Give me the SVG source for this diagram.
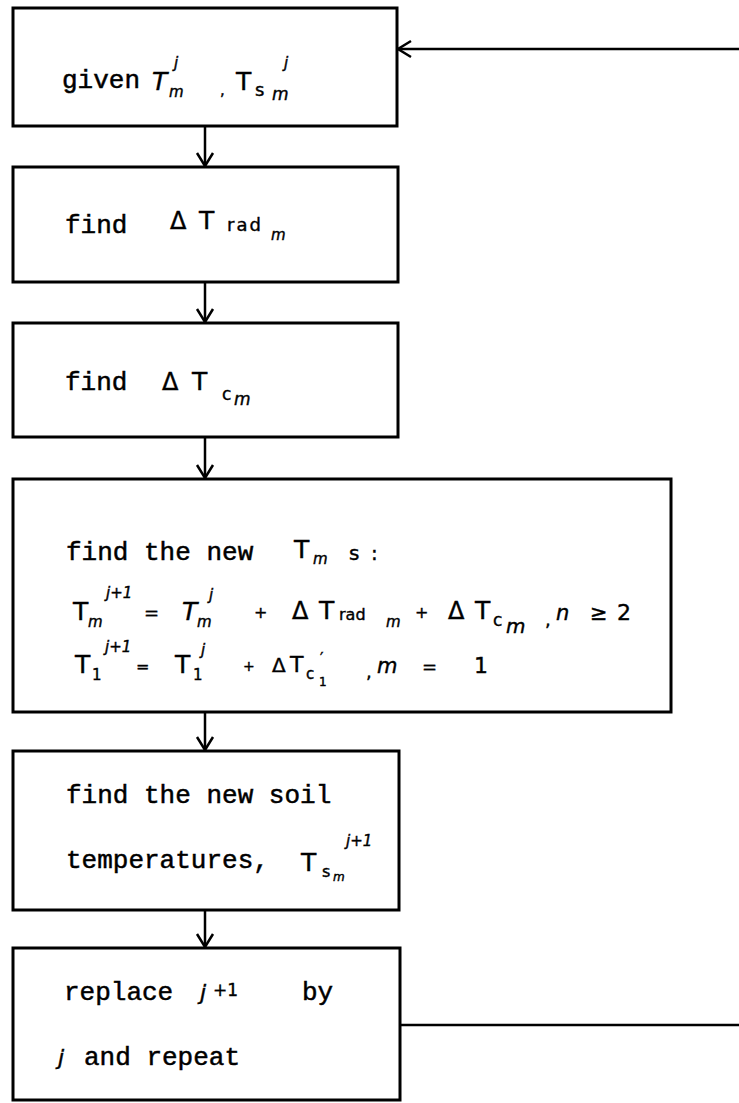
<svg xmlns="http://www.w3.org/2000/svg" width="739" height="1103" viewBox="0 0 739 1103">
<style>
.box{fill:#fff;stroke:#000;stroke-width:3}
.ln{fill:none;stroke:#000;stroke-width:2.5}
.tw{font-family:"Liberation Mono","DejaVu Sans Mono",monospace;font-size:26px;fill:#000;stroke:#000;stroke-width:0.5}
.hw{font-family:"DejaVu Sans","Liberation Sans",sans-serif;fill:#000;stroke:#000;stroke-width:0.4}
.T{font-size:25px}
.D{font-size:24px}
.s{font-size:15px}
.ss{font-size:12px}
.sup{font-size:15px}
</style>
<defs>
<marker id="ah" viewBox="-15 -10 17 20" markerWidth="17" markerHeight="20" refX="0" refY="0" orient="auto" markerUnits="userSpaceOnUse">
<path d="M-13,-8 L0,0 L-13,8" fill="none" stroke="#000" stroke-width="2.5"/>
</marker>
</defs>
<rect width="739" height="1103" fill="#fff"/>
<g id="connectors">
<path class="ln" d="M739,49 L398,49" marker-end="url(#ah)"/>
<path class="ln" d="M205,126 L205,166" marker-end="url(#ah)"/>
<path class="ln" d="M205,282 L205,322" marker-end="url(#ah)"/>
<path class="ln" d="M205,437 L205,478" marker-end="url(#ah)"/>
<path class="ln" d="M205,712 L205,750" marker-end="url(#ah)"/>
<path class="ln" d="M205,910 L205,947" marker-end="url(#ah)"/>
<path class="ln" d="M400,1025 L739,1025"/>
</g>
<g id="n1">
<rect class="box" x="13" y="8" width="384" height="118"/>
<text class="tw" x="62" y="88">given</text>
<text class="hw T" x="152" y="90" font-style="italic">T</text>
<text class="hw s" x="169" y="97" font-style="italic">m</text>
<text class="hw sup" x="174" y="68" font-style="italic">j</text>
<text class="hw s" x="220" y="95">,</text>
<text class="hw T" x="236" y="90">T</text>
<text class="hw" x="255" y="96" font-size="18">s</text>
<text class="hw" x="272" y="100" font-size="17" font-style="italic">m</text>
<text class="hw sup" x="284" y="68" font-style="italic">j</text>
</g>
<g id="n2">
<rect class="box" x="13" y="167" width="385" height="115"/>
<text class="tw" x="65" y="233">find</text>
<text class="hw D" x="170" y="229">Δ</text>
<text class="hw T" x="199" y="229">T</text>
<text class="hw" x="227" y="231" font-size="18" letter-spacing="2">rad</text>
<text class="hw s" x="271" y="240" font-style="italic">m</text>
</g>
<g id="n3">
<rect class="box" x="13" y="323" width="385" height="114"/>
<text class="tw" x="65" y="390">find</text>
<text class="hw D" x="162" y="390">Δ</text>
<text class="hw T" x="192" y="390">T</text>
<text class="hw" x="222" y="400" font-size="17">c</text>
<text class="hw" x="234" y="405" font-size="17" font-style="italic">m</text>
</g>
<g id="n4">
<rect class="box" x="13" y="479" width="658" height="233"/>
<text class="tw" x="66" y="560">find the new</text>
<text class="hw T" x="294" y="558">T</text>
<text class="hw s" x="313" y="564" font-style="italic">m</text>
<text class="hw" x="349" y="560" font-size="20">s</text>
<text class="hw" x="371" y="560" font-size="20">:</text>
<text class="hw T" x="73" y="620">T</text>
<text class="hw s" x="88" y="627" font-style="italic">m</text>
<text class="hw sup" x="106" y="598" font-style="italic">j+1</text>
<text class="hw" x="144" y="619" font-size="18">=</text>
<text class="hw T" x="182" y="620" font-style="italic">T</text>
<text class="hw s" x="197" y="627" font-style="italic">m</text>
<text class="hw sup" x="209" y="600" font-style="italic">j</text>
<text class="hw" x="254" y="618" font-size="16">+</text>
<text class="hw D" x="292" y="619">Δ</text>
<text class="hw T" x="319" y="619">T</text>
<text class="hw" x="339" y="620" font-size="16">rad</text>
<text class="hw s" x="386" y="627" font-style="italic">m</text>
<text class="hw" x="415" y="618" font-size="16">+</text>
<text class="hw D" x="448" y="619">Δ</text>
<text class="hw T" x="475" y="619">T</text>
<text class="hw" x="493" y="626" font-size="17">c</text>
<text class="hw" x="506" y="633" font-size="20" font-style="italic">m</text>
<text class="hw" x="545" y="626" font-size="18">,</text>
<text class="hw" x="556" y="620" font-size="21" font-style="italic">n</text>
<text class="hw" x="590" y="620" font-size="21">≥</text>
<text class="hw" x="617" y="620" font-size="22">2</text>
<text class="hw T" x="75" y="673">T</text>
<text class="hw s" x="92" y="680">1</text>
<text class="hw sup" x="105" y="652" font-style="italic">j+1</text>
<text class="hw" x="136" y="672" font-size="16">=</text>
<text class="hw T" x="175" y="673">T</text>
<text class="hw s" x="193" y="680">1</text>
<text class="hw sup" x="201" y="655" font-style="italic">j</text>
<text class="hw" x="243" y="671" font-size="14">+</text>
<text class="hw" x="272" y="672" font-size="20">Δ</text>
<text class="hw" x="290" y="672" font-size="22">T</text>
<text class="hw" x="306" y="679" font-size="15">c</text>
<text class="hw" x="320" y="664" font-size="15">′</text>
<text class="hw ss" x="319" y="686">1</text>
<text class="hw" x="366" y="678" font-size="18">,</text>
<text class="hw" x="377" y="673" font-size="21" font-style="italic">m</text>
<text class="hw" x="422" y="673" font-size="18">=</text>
<text class="hw" x="474" y="673" font-size="22">1</text>
</g>
<g id="n5">
<rect class="box" x="13" y="751" width="386" height="159"/>
<text class="tw" x="66" y="803">find the new soil</text>
<text class="tw" x="66" y="868">temperatures,</text>
<text class="hw T" x="301" y="871">T</text>
<text class="hw" x="322" y="877" font-size="16">s</text>
<text class="hw ss" x="333" y="881" font-size="14" font-style="italic">m</text>
<text class="hw sup" x="346" y="846" font-style="italic">j+1</text>
</g>
<g id="n6">
<rect class="box" x="13" y="948" width="387" height="152"/>
<text class="tw" x="64" y="1000">replace</text>
<text class="hw" x="200" y="1000" font-size="22" font-style="italic">j</text>
<text class="hw" x="213" y="996" font-size="17">+1</text>
<text class="tw" x="302" y="1000">by</text>
<text class="hw" x="58" y="1065" font-size="22" font-style="italic">j</text>
<text class="tw" x="84" y="1065">and repeat</text>
</g>
</svg>
